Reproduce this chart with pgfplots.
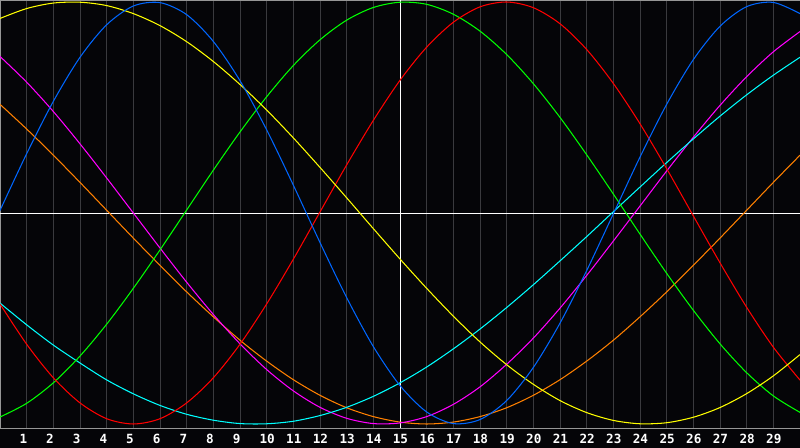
\documentclass[border=0pt]{standalone}
\usepackage{fontspec}
\setmainfont{DejaVu Sans Mono}
\usepackage{pgfplots}
\usepackage{pgfplotstable}
\pgfplotsset{compat=1.18}

\definecolor{bg}{RGB}{5,5,8}
\definecolor{gridc}{RGB}{58,58,62}
\definecolor{framec}{RGB}{150,150,150}
\definecolor{cyel}{RGB}{255,255,0}
\definecolor{cblu}{RGB}{0,102,255}
\definecolor{cgrn}{RGB}{0,255,0}
\definecolor{cred}{RGB}{255,0,0}
\definecolor{ccyn}{RGB}{0,255,255}
\definecolor{cmag}{RGB}{255,0,255}
\definecolor{corg}{RGB}{255,128,0}

% one row per x step, one column per curve
\pgfplotstableread{
x  yel    blu    grn    red    cyn    mag    org
0  0.922  0.012 -0.967 -0.431 -0.427  0.742  0.515
1  0.969  0.281 -0.902 -0.622 -0.530  0.620  0.398
2  0.995  0.529 -0.805 -0.781 -0.626  0.481  0.274
3  0.999  0.738 -0.678 -0.900 -0.711  0.328  0.145
4  0.983  0.892 -0.527 -0.975 -0.791  0.166  0.013
5  0.945  0.981 -0.357 -1.000 -0.857  0.000 -0.119
6  0.888  0.997 -0.175 -0.975 -0.912 -0.166 -0.248
7  0.812  0.940  0.014 -0.900 -0.954 -0.328 -0.374
8  0.718  0.813  0.203 -0.781 -0.982 -0.481 -0.492
9  0.609  0.627  0.384 -0.622 -0.998 -0.620 -0.603
10 0.488  0.394  0.551 -0.431 -0.999 -0.742 -0.702
11 0.356  0.132  0.699 -0.219 -0.987 -0.843 -0.790
12 0.216 -0.140  0.821  0.005 -0.960 -0.921 -0.864
13 0.072 -0.401  0.914  0.228 -0.921 -0.973 -0.923
14 -0.074 -0.633 0.974  0.439 -0.869 -0.998 -0.965
15 -0.218 -0.818 0.999  0.629 -0.805 -0.995 -0.991
16 -0.357 -0.943 0.989  0.786 -0.730 -0.965 -1.000
17 -0.489 -0.998 0.942  0.904 -0.644 -0.907 -0.991
18 -0.611 -0.979 0.862  0.977 -0.550 -0.824 -0.965
19 -0.719 -0.889 0.751  1.000 -0.448 -0.717 -0.923
20 -0.812 -0.732 0.613  0.973 -0.340 -0.593 -0.864
21 -0.889 -0.522 0.453  0.897 -0.227 -0.451 -0.790
22 -0.946 -0.273 0.276  0.775 -0.112 -0.296 -0.702
23 -0.983 -0.004 0.090  0.614  0.006 -0.133 -0.603
24 -0.999  0.265 -0.100 0.423  0.123  0.033 -0.492
25 -0.994  0.515 -0.286 0.210  0.239  0.199 -0.374
26 -0.968  0.727 -0.461 -0.014 0.351  0.359 -0.248
27 -0.922  0.885 -0.620 -0.236 0.459  0.510 -0.119
28 -0.856  0.978 -0.757 -0.447 0.560  0.646  0.013
29 -0.772  0.998 -0.867 -0.636 0.653  0.764  0.145
30 -0.671  0.945 -0.945 -0.792 0.738  0.860  0.274
}\curves

\begin{document}
\begin{tikzpicture}
\useasboundingbox (0,0) rectangle (16,8.96);
\fill[bg] (0,0) rectangle (16,8.96);
\begin{axis}[
    at={(0,0.4cm)}, anchor=south west,
    scale only axis,
    width=16cm, height=8.56cm,
    xmin=0, xmax=30,
    ymin=-1.019, ymax=1.0095,
    xtick={1,...,29},
    ytick=\empty,
    major tick length=0pt,
    xmajorgrids,
    grid style={gridc, line width=0.55pt},
    axis line style={framec, line width=0.55pt},
    /pgf/number format/assume math mode=true,
    % labels start a little left of their grid line, as in the original
    xticklabel style={text=white, font=\fontsize{7.2}{8}\selectfont\bfseries,
        anchor=west, inner sep=0pt, xshift=-0.15cm, yshift=-0.22cm},
    extra x ticks={15}, extra x tick labels={},
    extra x tick style={grid=major, grid style={white, line width=0.5pt}},
    extra y ticks={0}, extra y tick labels={},
    extra y tick style={grid=major, grid style={white, line width=0.5pt}},
    every axis plot/.append style={line width=0.6pt, smooth, no markers},
]
\addplot[corg] table[x=x, y=org] {\curves};
\addplot[cmag] table[x=x, y=mag] {\curves};
\addplot[ccyn] table[x=x, y=cyn] {\curves};
\addplot[cgrn] table[x=x, y=grn] {\curves};
\addplot[cred] table[x=x, y=red] {\curves};
\addplot[cyel] table[x=x, y=yel] {\curves};
\addplot[cblu] table[x=x, y=blu] {\curves};
\end{axis}
\end{tikzpicture}
\end{document}
